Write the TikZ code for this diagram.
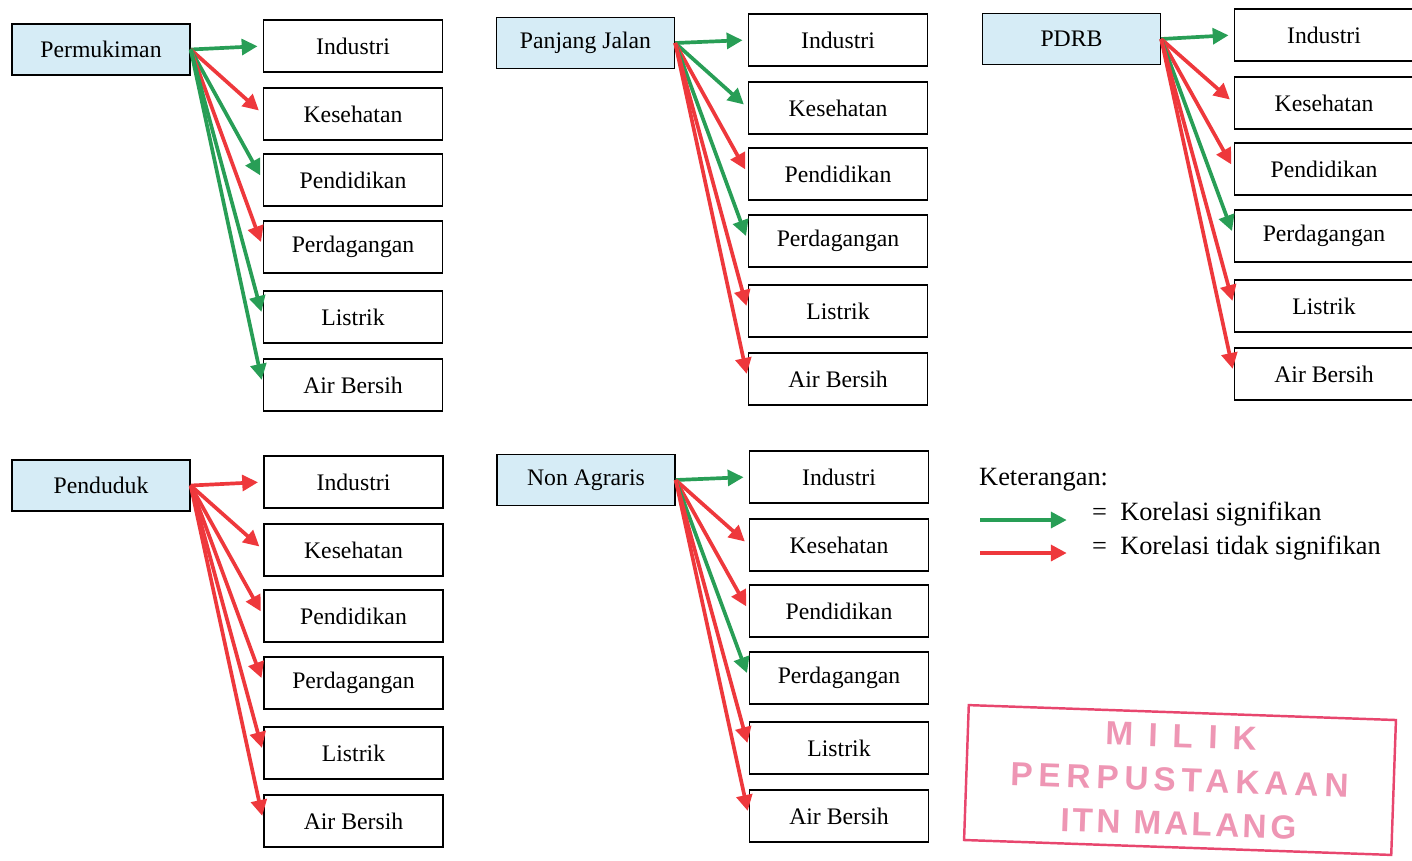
\documentclass[tikz,border=0pt]{standalone}
\usepackage{fontspec}
\setmainfont{Liberation Serif}
\newfontfamily\stampfont{Liberation Sans}
\usetikzlibrary{arrows.meta}

\definecolor{sigGreen}{RGB}{40,158,86}
\definecolor{nsigRed}{RGB}{238,56,60}
\definecolor{srcBlue}{RGB}{214,236,246}
\definecolor{stampRed}{RGB}{232,70,110}
\definecolor{stampPink}{RGB}{238,150,180}

\begin{document}
\begin{tikzpicture}[x=0.02cm, y=-0.02cm,
    srcBox/.style={draw, line width=0.8pt, fill=srcBlue, minimum width=3.56cm, minimum height=1.02cm, font=\fontsize{13.5}{16}\selectfont},
    tgtBox/.style={draw, line width=0.8pt, fill=white, minimum width=3.58cm, minimum height=1.04cm, font=\fontsize{13.5}{16}\selectfont},
    sig/.style={draw=sigGreen, fill=sigGreen, line width=2.1pt, -{Triangle[length=9pt,width=9pt]}, shorten >=3pt},
    nsig/.style={draw=nsigRed, fill=nsigRed, line width=2.1pt, -{Triangle[length=9pt,width=9pt]}, shorten >=3pt},
    legText/.style={anchor=west, font=\fontsize{15}{18}\selectfont},
]
\useasboundingbox (0,0) rectangle (1412,860);
\clip (0,0) rectangle (1412,860);

% Permukiman
\node[srcBox] (perm) at (101,49.5) {Permukiman};
\foreach \lbl/\dy/\st [count=\i] in {Industri/0/sig, Kesehatan/68/nsig, Pendidikan/134/sig,
    Perdagangan/201/nsig, Listrik/271/sig, Air Bersih/339/sig} {
  \node[tgtBox] (perm\i) at (353,46+\dy) {\lbl};
  \draw[\st] (perm.east) -- (perm\i.west);
}

% Panjang Jalan
\node[srcBox] (jalan) at (585.5,43) {Panjang Jalan};
\foreach \lbl/\dy/\st [count=\i] in {Industri/0/sig, Kesehatan/68/sig, Pendidikan/134/nsig,
    Perdagangan/201/sig, Listrik/271/nsig, Air Bersih/339/nsig} {
  \node[tgtBox] (jalan\i) at (838,40+\dy) {\lbl};
  \draw[\st] (jalan.east) -- (jalan\i.west);
}

% PDRB
\node[srcBox] (pdrb) at (1071.5,39) {PDRB};
\foreach \lbl/\dy/\st [count=\i] in {Industri/0/sig, Kesehatan/68/nsig, Pendidikan/134/nsig,
    Perdagangan/201/sig, Listrik/271/nsig, Air Bersih/339/nsig} {
  \node[tgtBox] (pdrb\i) at (1324,35+\dy) {\lbl};
  \draw[\st] (pdrb.east) -- (pdrb\i.west);
}

% Penduduk
\node[srcBox] (pddk) at (101,485.5) {Penduduk};
\foreach \lbl/\dy/\st [count=\i] in {Industri/0/nsig, Kesehatan/68/nsig, Pendidikan/134/nsig,
    Perdagangan/201/nsig, Listrik/271/nsig, Air Bersih/339/nsig} {
  \node[tgtBox] (pddk\i) at (353.5,482+\dy) {\lbl};
  \draw[\st] (pddk.east) -- (pddk\i.west);
}

% Non Agraris
\node[srcBox] (nonag) at (586,480) {Non Agraris};
\foreach \lbl/\dy/\st [count=\i] in {Industri/0/sig, Kesehatan/68/nsig, Pendidikan/134/nsig,
    Perdagangan/201/sig, Listrik/271/nsig, Air Bersih/339/nsig} {
  \node[tgtBox] (nonag\i) at (839,477+\dy) {\lbl};
  \draw[\st] (nonag.east) -- (nonag\i.west);
}

% Keterangan
\node[legText] (ket) at (973,480) {Keterangan:};
\coordinate (sigA) at (980,520);
\coordinate (sigB) at (1072,520);
\coordinate (nsigA) at (980,553);
\coordinate (nsigB) at (1072,553);
\draw[sig] (sigA) -- (sigB);
\draw[nsig] (nsigA) -- (nsigB);
\node[legText] (sigTxt) at (1086,514) {=\ \ Korelasi signifikan};
\node[legText] (nsigTxt) at (1086,548) {=\ \ Korelasi tidak signifikan};

% stempel
\node[draw=stampRed, line width=1.4pt, rotate=-2, minimum width=8.55cm, minimum height=2.7cm,
    text=stampPink, align=center, inner sep=0pt,
    font=\stampfont\bfseries\fontsize{19}{25}\selectfont] (stamp) at (1180,780)
  {{\addfontfeature{LetterSpace=45}MILIK}\\
   {\addfontfeature{LetterSpace=17}PERPUSTAKAAN}\\
   {\addfontfeature{LetterSpace=10}ITN MALANG}};
\end{tikzpicture}
\end{document}
